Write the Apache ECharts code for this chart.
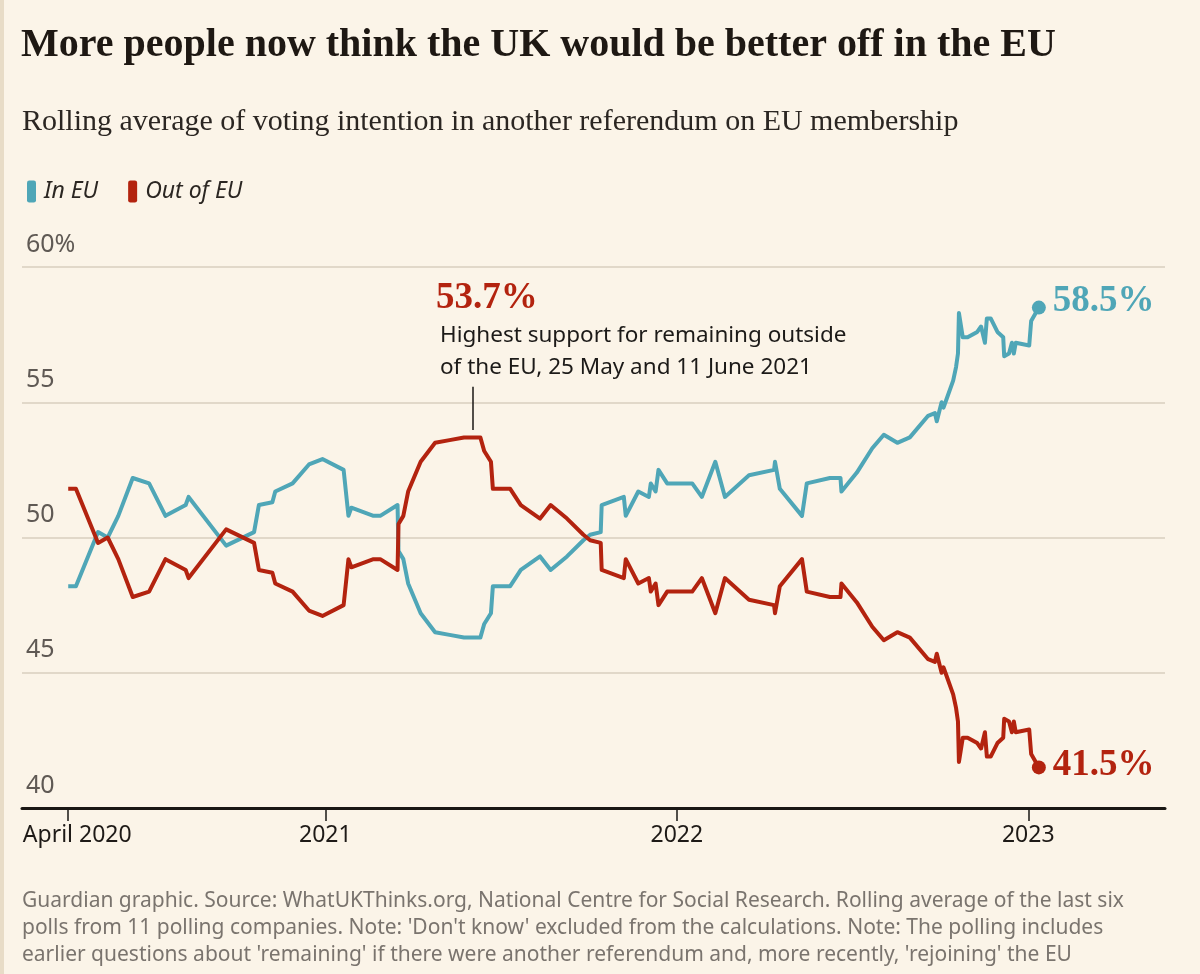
<!DOCTYPE html>
<html>
<head>
<meta charset="utf-8">
<script src="https://cdn.jsdelivr.net/npm/echarts@6/dist/echarts.min.js"></script>
<style>
html,body{margin:0;padding:0;background:#fbf4e8;}
#chart{width:1200px;height:974px;}
</style>
</head>
<body>
<div id="chart"></div>
<script>
// ---- Data ----
const dates = [
 '2020-04-09','2020-04-17','2020-05-10','2020-05-20','2020-05-31','2020-06-15','2020-07-02','2020-07-19','2020-08-09','2020-08-12',
 '2020-09-20','2020-10-19','2020-10-24','2020-11-07','2020-11-10','2020-11-28','2020-12-15','2020-12-29','2021-01-20','2021-01-25',
 '2021-01-28','2021-02-20','2021-02-27','2021-03-17','2021-03-18','2021-03-23','2021-03-28','2021-04-10','2021-04-25','2021-05-10',
 '2021-05-25','2021-06-11','2021-06-15','2021-06-22','2021-06-24','2021-07-12','2021-07-23','2021-08-12','2021-08-23','2021-09-09',
 '2021-09-26','2021-10-03','2021-10-14','2021-10-15','2021-11-07','2021-11-09','2021-11-22','2021-12-03','2021-12-05','2021-12-10',
 '2021-12-13','2021-12-22','2022-01-17','2022-01-27','2022-02-10','2022-02-20','2022-03-17','2022-04-12','2022-04-13','2022-04-18',
 '2022-05-11','2022-05-16','2022-06-09','2022-06-20','2022-06-21','2022-07-07','2022-07-23','2022-08-04','2022-08-18','2022-08-31',
 '2022-09-19','2022-09-26','2022-09-28','2022-10-03','2022-10-05','2022-10-08','2022-10-15','2022-10-18','2022-10-20','2022-10-21',
 '2022-10-25','2022-10-30','2022-11-09','2022-11-13','2022-11-17','2022-11-19','2022-11-23','2022-11-30','2022-12-06','2022-12-07',
 '2022-12-12','2022-12-15','2022-12-17','2022-12-19','2023-01-02','2023-01-04','2023-01-12'
];
const inEU = [
 48.2,48.2,50.2,50.0,50.8,52.2,52.0,50.8,51.2,51.5,
 49.7,50.2,51.2,51.3,51.7,52.0,52.7,52.9,52.5,50.8,
 51.1,50.8,50.8,51.2,49.5,49.2,48.3,47.2,46.5,46.4,
 46.3,46.3,46.8,47.2,48.2,48.2,48.8,49.3,48.8,49.3,
 49.9,50.1,50.2,51.2,51.5,50.8,51.7,51.5,52.0,51.7,
 52.5,52.0,52.0,51.5,52.8,51.5,52.3,52.5,52.8,51.8,
 50.8,52.0,52.2,52.2,51.7,52.4,53.3,53.8,53.5,53.7,
 54.5,54.6,54.3,55.0,54.8,55.1,55.8,56.3,56.8,58.3,
 57.4,57.4,57.6,57.8,57.2,58.1,58.1,57.6,57.4,56.7,
 56.8,57.2,56.8,57.2,57.1,58.0,58.5
];
const outEU = [
 51.8,51.8,49.8,50.0,49.2,47.8,48.0,49.2,48.8,48.5,
 50.3,49.8,48.8,48.7,48.3,48.0,47.3,47.1,47.5,49.2,
 48.9,49.2,49.2,48.8,50.5,50.8,51.7,52.8,53.5,53.6,
 53.7,53.7,53.2,52.8,51.8,51.8,51.2,50.7,51.2,50.7,
 50.1,49.9,49.8,48.8,48.5,49.2,48.3,48.5,48.0,48.3,
 47.5,48.0,48.0,48.5,47.2,48.5,47.7,47.5,47.2,48.2,
 49.2,48.0,47.8,47.8,48.3,47.6,46.7,46.2,46.5,46.3,
 45.5,45.4,45.7,45.0,45.2,44.9,44.2,43.7,43.2,41.7,
 42.6,42.6,42.4,42.2,42.8,41.9,41.9,42.4,42.6,43.3,
 43.2,42.8,43.2,42.8,42.9,42.0,41.5
];
const tickDates = ['2020-04-09','2021-01-01','2022-01-01','2023-01-01'];
const tickLabels = ['April 2020','2021','2022','2023'];
const yTickValues = [40,45,50,55,60];
const peakDate = '2021-06-03';
const peakValue = 53.7;

// ---- Helpers ----
function ts(s){const p=s.split('-').map(Number);return Date.UTC(p[0],p[1]-1,p[2]);}
const BLUE='#4fa6b7', RED='#b3230f';
const inData = dates.map((d,i)=>[ts(d), inEU[i]]);
const outData = dates.map((d,i)=>[ts(d), outEU[i]]);
const tickTimes = tickDates.map(ts);
const last = dates.length-1;

const chart = echarts.init(document.getElementById('chart'), null, {renderer:'canvas'});
chart.setOption({
  animation:false,
  backgroundColor:'#fbf4e8',
  title:[
    {text:'More people now think the UK would be better off in the EU', left:16, top:21,
     textStyle:{fontFamily:'Liberation Serif', fontWeight:'bold', fontSize:40, color:'#1e1813'}},
    {text:'Rolling average of voting intention in another referendum on EU membership', left:17, top:102,
     textStyle:{fontFamily:'Liberation Serif', fontWeight:'normal', fontSize:30, color:'#2b2622'}}
  ],
  legend:{
    left:22, top:175, icon:'roundRect', itemWidth:9, itemHeight:22, itemGap:30,
    data:['In EU','Out of EU'],
    textStyle:{fontFamily:'Noto Sans', fontStyle:'italic', fontSize:23, color:'#2b2622', padding:[0,0,0,3]}
  },
  graphic:[
    {type:'rect', left:0, top:0, shape:{width:4, height:974}, style:{fill:'#e8dcc7'}},
    {type:'text', left:436, top:280, style:{text:'53.7%', fill:RED, font:'bold 37px "Liberation Serif"'}},
    {type:'text', left:440, top:320, style:{text:'Highest support for remaining outside\nof the EU, 25 May and 11 June 2021',
      fill:'#1c1a18', font:'22.5px "Noto Sans"', lineHeight:32}},
    {type:'text', left:22, top:888, style:{text:
      "Guardian graphic. Source: WhatUKThinks.org, National Centre for Social Research. Rolling average of the last six\n"+
      "polls from 11 polling companies. Note: 'Don't know' excluded from the calculations. Note: The polling includes\n"+
      "earlier questions about 'remaining' if there were another referendum and, more recently, 'rejoining' the EU",
      fill:'#7a746e', font:'21px "Noto Sans"', lineHeight:27}}
  ],
  grid:{left:22, right:35, top:267, bottom:166},
  xAxis:{
    type:'value', min:ts('2020-02-21'), max:ts('2023-05-23'),
    axisLine:{show:true, lineStyle:{color:'#1a1714', width:3}},
    axisTick:{show:true, customValues:tickTimes, length:13, lineStyle:{color:'#1a1714', width:1.5}},
    axisLabel:{show:true, customValues:tickTimes, margin:16, fontFamily:'Noto Sans', fontSize:23, color:'#1e1a17',
      rich:{first:{fontFamily:'Noto Sans', fontSize:23, color:'#1e1a17', padding:[0,0,0,18]}},
      formatter:function(v){const i=tickTimes.indexOf(v);if(i<0)return '';return i===0?'{first|'+tickLabels[i]+'}':tickLabels[i];}},
    splitLine:{show:false}
  },
  yAxis:{
    type:'value', min:yTickValues[0], max:yTickValues[yTickValues.length-1], interval:5,
    axisLine:{show:false}, axisTick:{show:false},
    axisLabel:{inside:true, margin:4, verticalAlign:'bottom', padding:[0,0,10,0], fontFamily:'Noto Sans', fontSize:25, color:'#5f5954',
      formatter:function(v){return v===60? v+'%' : String(v);}},
    splitLine:{show:true, lineStyle:{color:'#d8cfbf', width:1.5}}
  },
  series:[
    {name:'In EU', type:'line', data:inData, color:BLUE, showSymbol:false, lineStyle:{width:4, color:BLUE, join:'round'},
     endLabel:{show:true, distance:14, offset:[0,-6], formatter:function(p){return p.value[1].toFixed(1)+'%';},
       color:BLUE, fontFamily:'Liberation Serif', fontWeight:'bold', fontSize:37}},
    {name:'Out of EU', type:'line', data:outData, color:RED, showSymbol:false, lineStyle:{width:4, color:RED, join:'round'},
     endLabel:{show:true, distance:14, offset:[0,-2], formatter:function(p){return p.value[1].toFixed(1)+'%';},
       color:RED, fontFamily:'Liberation Serif', fontWeight:'bold', fontSize:37},
     markLine:{silent:true, symbol:['none','none'], label:{show:false}, lineStyle:{color:'#1a1714', width:1.5, type:'solid'},
       data:[[{coord:[ts(peakDate), peakValue+0.27]},{coord:[ts(peakDate), peakValue+1.87]}]]}},
    {type:'scatter', data:[inData[last]], symbolSize:14, itemStyle:{color:BLUE, opacity:1}, silent:true},
    {type:'scatter', data:[outData[last]], symbolSize:14, itemStyle:{color:RED, opacity:1}, silent:true}
  ]
});
</script>
</body>
</html>
